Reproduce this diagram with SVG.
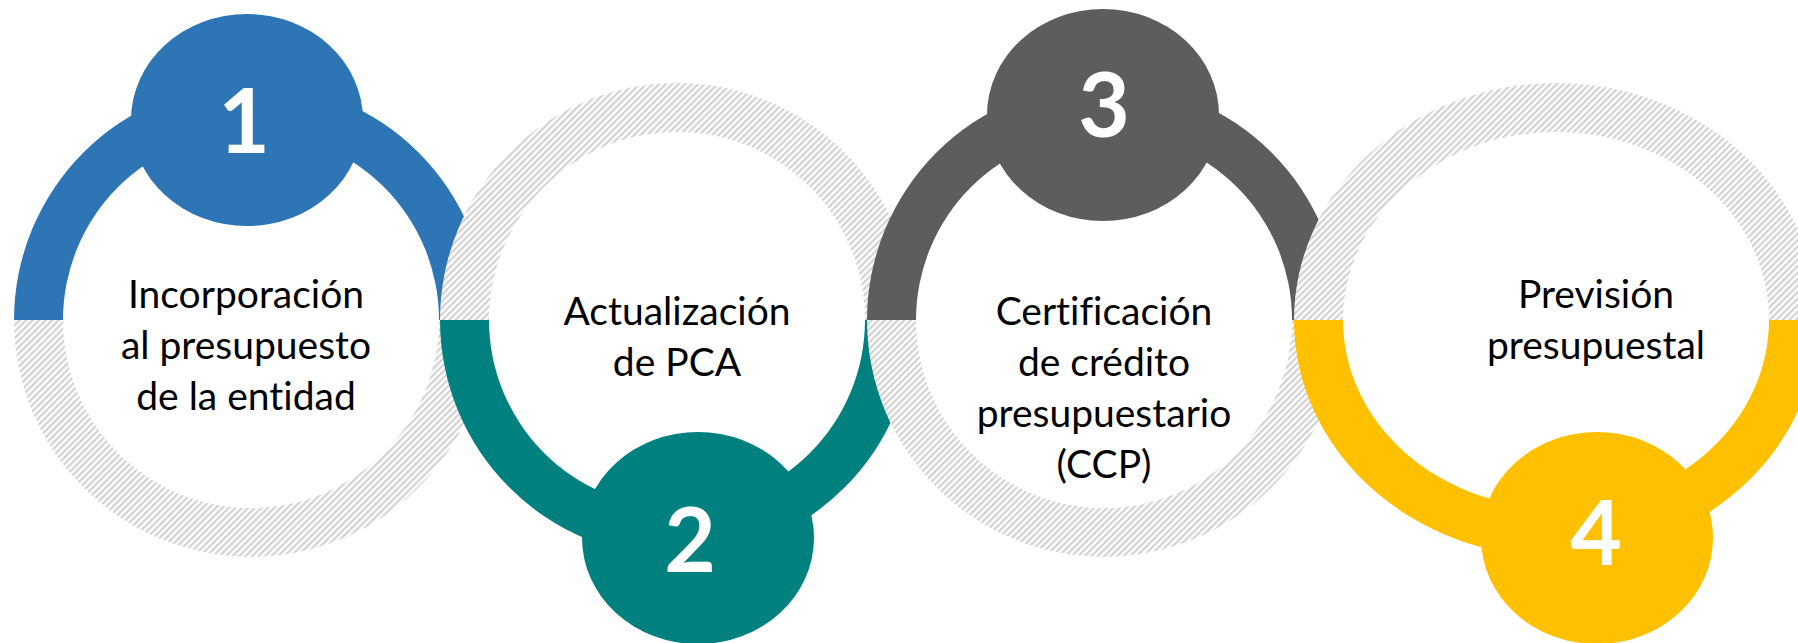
<svg xmlns="http://www.w3.org/2000/svg" width="1798" height="643" viewBox="0 0 1798 643">
  <defs>
    <pattern id="hatch" patternUnits="userSpaceOnUse" width="4.6" height="10" patternTransform="rotate(45)">
      <rect x="0" y="0" width="4.6" height="10" fill="#ffffff"/>
      <rect x="0" y="0" width="2.2" height="10" fill="#d2d2d2"/>
    </pattern>
  </defs>
  <style>
    .hatch { fill: url(#hatch); }
    .blue { fill: #2e75b6; }
    .teal { fill: #00807f; }
    .gray { fill: #5d5d5d; }
    .yellow { fill: #ffc000; }
    .label { font-family: Lato, "Liberation Sans", sans-serif; font-size: 39px; fill: #000000; text-anchor: middle; font-variant-ligatures: none; }
    .num { font-family: Lato, "Liberation Sans", sans-serif; font-size: 89px; font-weight: bold; fill: #ffffff; text-anchor: middle; }
  </style>
  <rect x="0" y="0" width="1798" height="643" fill="#ffffff"/>

  <g id="node1">
    <path class="blue" d="M14,320 A237,237 0 0 1 488,320 L439,320 A188,188 0 0 0 63,320 Z"/>
    <path class="hatch" d="M14,320 A237,237 0 0 0 488,320 L439,320 A188,188 0 0 1 63,320 Z"/>
    <ellipse class="blue" cx="247" cy="120" rx="116" ry="106"/>
    <text class="num" x="244" y="153">1</text>
    <text class="label" x="246" y="308">Incorporación</text>
    <text class="label" x="246" y="359">al presupuesto</text>
    <text class="label" x="246" y="410">de la entidad</text>
  </g>

  <g id="node2">
    <path class="hatch" d="M440,320 A237,237 0 0 1 914,320 L865,320 A188,188 0 0 0 489,320 Z"/>
    <path class="teal" d="M440,320 A237,237 0 0 0 914,320 L865,320 A188,188 0 0 1 489,320 Z"/>
    <ellipse class="teal" cx="698" cy="538" rx="116" ry="106"/>
    <text class="num" x="690" y="572">2</text>
    <text class="label" x="677" y="325">Actualización</text>
    <text class="label" x="677" y="376">de PCA</text>
  </g>

  <g id="node3">
    <path class="gray" d="M867,320 A237,237 0 0 1 1341,320 L1292,320 A188,188 0 0 0 916,320 Z"/>
    <path class="hatch" d="M867,320 A237,237 0 0 0 1341,320 L1292,320 A188,188 0 0 1 916,320 Z"/>
    <ellipse class="gray" cx="1103" cy="115" rx="116" ry="106"/>
    <text class="num" x="1104" y="137">3</text>
    <text class="label" x="1104" y="325">Certificación</text>
    <text class="label" x="1104" y="376">de crédito</text>
    <text class="label" x="1104" y="427">presupuestario</text>
    <text class="label" x="1104" y="478">(CCP)</text>
  </g>

  <g id="node4">
    <path class="hatch" d="M1294,320 A262,237 0 0 1 1818,320 L1769,320 A213,188 0 0 0 1343,320 Z"/>
    <path class="yellow" d="M1294,320 A262,237 0 0 0 1818,320 L1769,320 A213,188 0 0 1 1343,320 Z"/>
    <ellipse class="yellow" cx="1597" cy="538" rx="116" ry="106"/>
    <text class="num" x="1596" y="565">4</text>
    <text class="label" x="1596" y="308">Previsión</text>
    <text class="label" x="1596" y="359">presupuestal</text>
  </g>
</svg>
